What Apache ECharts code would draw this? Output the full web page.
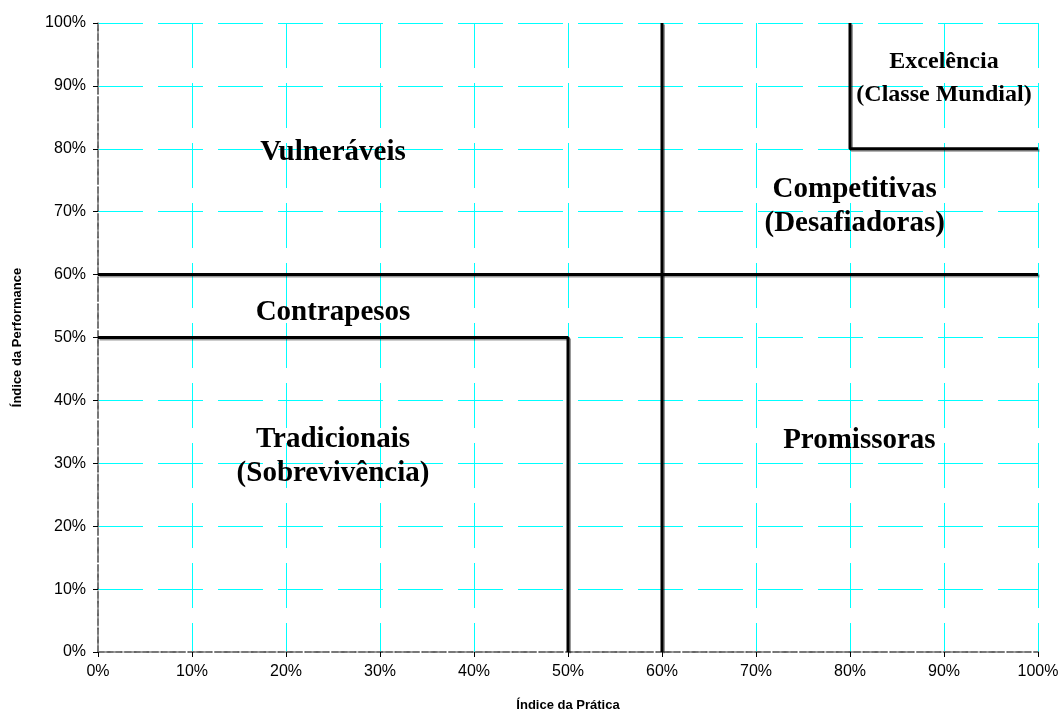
<!DOCTYPE html>
<html><head><meta charset="utf-8">
<script src="https://cdn.jsdelivr.net/npm/echarts@6/dist/echarts.min.js"></script>
<style>html,body{margin:0;padding:0;background:#fff}#c{width:1064px;height:715px}</style>
</head><body><div id="c"></div>
<script>
const xTicks = [0,10,20,30,40,50,60,70,80,90,100];
const hLine60 = [[0,60],[100,60]];
const vLine60 = [[60,0],[60,100]];
const tradBoundary = [[0,50],[50,50],[50,0]];
const excBoundary = [[80,100],[80,80],[100,80]];
const labelNames = ['Vulneráveis','Contrapesos','Tradicionais\n(Sobrevivência)','Competitivas\n(Desafiadoras)','Promissoras','Excelência\n(Classe Mundial)'];
const labelX = [25,25,25,80.5,81,90];
const labelY = [79.4,54,31,70.8,33.7,91.2];
const labelSize = [29,29,29,29,29,24];

const chart = echarts.init(document.getElementById('c'));
const lineStyle = {color:'#000',width:3,shadowColor:'rgba(0,0,0,0.4)',shadowOffsetX:1.5,shadowOffsetY:1.5,shadowBlur:0};
const mkLine = d => ({type:'line',data:d,symbol:'none',lineStyle:lineStyle,silent:true,animation:false,xAxisIndex:0,yAxisIndex:0});
const lblData = labelNames.map((n,i)=>({value:[labelX[i],labelY[i]],label:{show:true,formatter:n,fontSize:labelSize[i],lineHeight:i===5?33:34,color:'#000'}}));
const splitColors = ['rgba(0,0,0,0)'].concat(xTicks.slice(1).map(()=>'#00FFFF'));
chart.setOption({
  animation:false,
  grid:{left:98,right:26,top:23,bottom:63,show:false,containLabel:false,outerBoundsMode:'none'},
  xAxis:[{type:'value',min:0,max:100,interval:10,position:'bottom',
    name:'Índice da Prática',nameLocation:'middle',nameGap:47,
    nameTextStyle:{fontFamily:'Liberation Sans, Arial',fontWeight:'bold',fontSize:13,color:'#000'},
    axisLine:{show:true,lineStyle:{color:'#333',type:[6,3],width:1.5}},
    axisTick:{show:true,length:5,lineStyle:{color:'#000'}},
    axisLabel:{formatter:v=>v+'%',fontFamily:'Liberation Sans, Arial',fontSize:16,color:'#000',margin:12},
    splitLine:{show:true,lineStyle:{color:splitColors,type:[45,15],width:1}}},
   {type:'value',min:0,max:100,position:'top',axisLine:{show:true,lineStyle:{color:'#808080',type:[9,4],width:1.5}},axisTick:{show:false},axisLabel:{show:false},splitLine:{show:false}}],
  yAxis:[{type:'value',min:0,max:100,interval:10,position:'left',
    name:'Índice da Performance',nameLocation:'middle',nameGap:74,
    nameTextStyle:{fontFamily:'Liberation Sans, Arial',fontWeight:'bold',fontSize:13,color:'#000'},
    axisLine:{show:true,lineStyle:{color:'#333',type:[6,3],width:1.5}},
    axisTick:{show:true,length:5,lineStyle:{color:'#000'}},
    axisLabel:{formatter:v=>v+'%',fontFamily:'Liberation Sans, Arial',fontSize:16,color:'#000',margin:12},
    splitLine:{show:true,lineStyle:{color:splitColors,type:[45,15],width:1}}},
   {type:'value',min:0,max:100,position:'right',axisLine:{show:true,lineStyle:{color:'#808080',type:[9,4],width:1.5}},axisTick:{show:false},axisLabel:{show:false},splitLine:{show:false}}],
  series:[
    mkLine(hLine60), mkLine(vLine60), mkLine(tradBoundary), mkLine(excBoundary),
    {type:'scatter',data:lblData,symbolSize:0,silent:true,itemStyle:{opacity:1},
     label:{show:true,position:'inside',color:'#000',textBorderWidth:0,fontFamily:'Liberation Serif, Times New Roman',fontWeight:'bold',align:'center',verticalAlign:'middle'}}
  ]
});
</script></body></html>
